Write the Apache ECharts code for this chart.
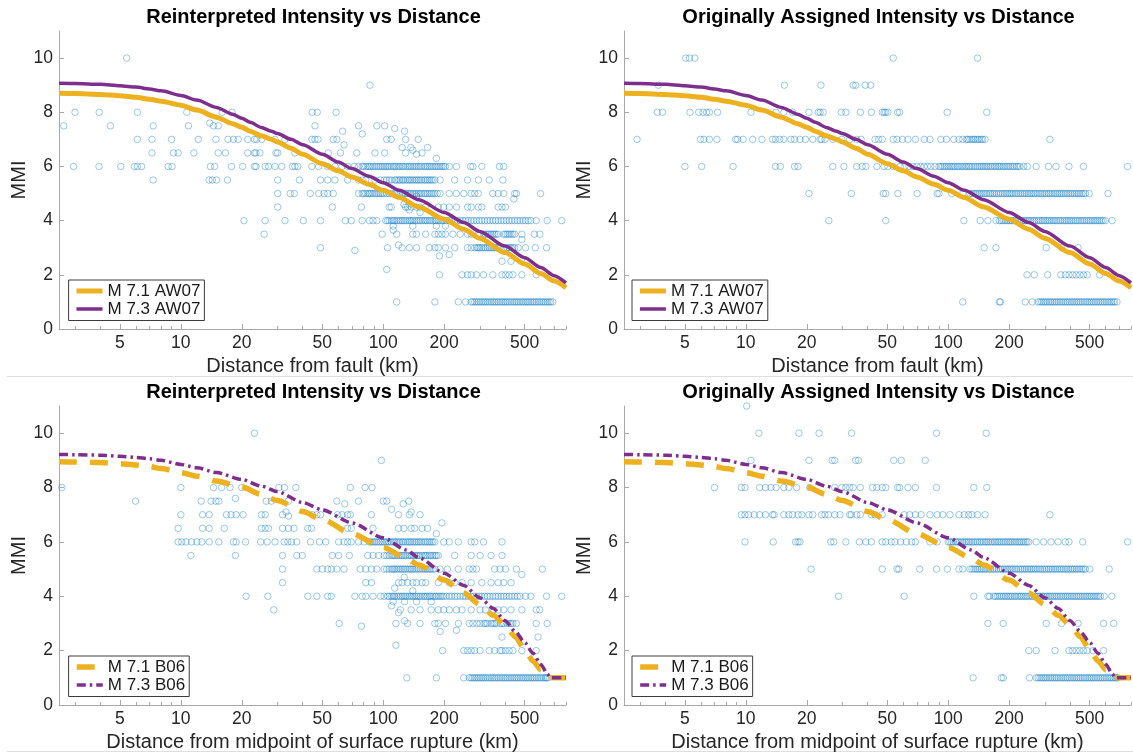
<!DOCTYPE html>
<html><head><meta charset="utf-8">
<script src="https://cdn.jsdelivr.net/npm/echarts@6/dist/echarts.min.js"></script>
<style>html,body{margin:0;padding:0;background:#fff}#c{width:1133px;height:756px}</style>
</head><body><div id="c"></div>
<script>
// ---------- tick labels / categories ----------
const xMajorTicks = [5, 10, 20, 50, 100, 200, 500];
const xMinorTicks = [3, 4, 6, 7, 8, 9, 30, 40, 60, 70, 80, 90, 300, 400, 600, 700, 800];
const yTicks = [0, 2, 4, 6, 8, 10];
const panelTitles = ['Reinterpreted Intensity vs Distance', 'Originally Assigned Intensity vs Distance',
                     'Reinterpreted Intensity vs Distance', 'Originally Assigned Intensity vs Distance'];
const xAxisNames = ['Distance from fault (km)', 'Distance from fault (km)',
                    'Distance from midpoint of surface rupture (km)', 'Distance from midpoint of surface rupture (km)'];
const aw07Names = ['M 7.1 AW07', 'M 7.3 AW07'];
const b06Names = ['M 7.1 B06', 'M 7.3 B06'];

// ---------- observed intensities: [MMI, [distances km]] ----------
const reintFaultRows = [
  [10, [5.4]],
  [9, [86]],
  [8, [3.0, 3.95, 6.1, 10.7, 16, 17.9, 44.6, 47.2, 58.5]],
  [7.6, [13.9]],
  [7.5, [2.64, 4.49, 7.3, 10.9, 14.5, 15.3, 46, 75.5, 93, 101.6]],
  [7.4, [114]],
  [7.3, [63, 127.5]],
  [7.2, [78.7]],
  [7, [6.1, 7.2, 9.0, 12.2, 14.9, 17.1, 18.2, 19.2, 21.4, 23.1, 23.7, 25.1, 29.2, 32.7, 44.4, 46, 47.6, 56.6, 59, 104, 109.5, 129, 149]],
  [6.8, [64]],
  [6.7, [124, 137, 165.6]],
  [6.6, [140]],
  [6.5, [7.2, 9.2, 9.7, 11.6, 15.3, 16.6, 21.4, 23.1, 23.5, 24.6, 29.5, 30.1, 36.6, 53.5, 61.5, 74, 91, 101.6, 129, 155.5]],
  [6.45, [146]],
  [6.3, [183]],
  [6, [2.95, 3.94, 5.05, 5.9, 6.1, 6.4, 8.65, 9.05, 14.0, 14.7, 17.8, 20.2, 23.1, 23.5, 26.1, 27.1, 29.2, 31.5, 35.6, 36.6, 37.8, 44.4, 48, 53.2, 57.7, 62.6, 66.7, 72, 75.5, 78.7, 82, 85.5, 89, 93, 97, 101, 105, 109.5, 114, 119, 124, 129, 134.6, 140, 146, 152, 159, 165.6, 172.6, 180, 187, 195, 203, 212, 230, 270, 277.5, 307, 375, 394]],
  [6, [80, 84, 87, 91, 95, 99, 103, 107, 112, 116, 121, 126, 132, 137, 143, 149, 155, 162, 169, 176, 183, 191, 199]],
  [5.5, [7.3, 13.8, 14.3, 15.0, 17.0, 30.1, 38.5, 49, 53.2, 57.7, 66.7, 75.5, 78.7, 82, 91, 97, 101, 107, 114, 119, 124, 129, 134.6, 140, 146, 152, 159, 165.6, 172.6, 180, 191, 225.5, 261, 295, 334, 390]],
  [5.5, [104, 110, 116, 121, 126, 132, 137, 143, 149, 155, 162, 169, 176]],
  [5, [30.1, 34.7, 36.4, 43.6, 48, 51, 53.2, 56.6, 75.5, 78.7, 82, 85.5, 89, 93, 97, 101, 107, 114, 119, 124, 129, 134.6, 140, 146, 152, 159, 165.6, 172.6, 180, 191, 212, 230, 250, 272, 283, 295, 348, 370, 394, 446, 455, 599]],
  [5, [80, 84, 87, 91, 95, 99, 104, 110, 116, 121, 126, 132, 137, 143, 149, 155, 162, 169, 176, 185]],
  [4.9, [146]],
  [4.8, [442]],
  [4.6, [126.5]],
  [4.5, [30.1, 56, 78, 107, 109.5, 129, 132, 137.4, 146, 152, 162, 187, 199, 212, 230, 261, 272, 295, 307, 370, 386, 402]],
  [4.4, [134.6]],
  [4.3, [152]],
  [4, [20.5, 26.1, 32.7, 40.3, 49, 65, 69.5, 78.7, 85.5, 89, 93, 103, 107, 112, 116.5, 121.5, 126.5, 132, 137.4, 143, 149, 155.5, 162, 169, 176, 183, 191, 199, 212, 225.5, 240, 255, 272, 289, 307, 327, 348, 370, 394, 419, 446, 474, 505, 536, 570, 646, 762]],
  [4, [105, 110, 114, 119, 124, 129, 135, 140, 146, 152, 159, 165, 172, 180, 187, 195, 205, 218, 232, 248, 263, 280, 298, 317, 337, 359, 382, 406, 432, 460, 490, 520]],
  [3.8, [112, 140, 183, 203]],
  [3.65, [112]],
  [3.5, [25.8, 98.8, 116.5, 140, 146, 162, 180, 187, 195, 203, 221, 240, 261, 272, 295, 320, 334, 348, 370, 394, 410, 428, 446, 484, 558, 594]],
  [3.5, [300, 314, 327, 341, 355, 362, 402, 419, 437]],
  [3.3, [484]],
  [3.1, [119]],
  [3, [49, 105, 124, 134.6, 146, 169, 180, 187, 203, 225.5, 261, 272, 283, 295, 307, 320, 334, 348, 362, 378, 410, 428, 446, 464, 505, 564, 641]],
  [3, [290, 300, 314, 327, 341, 355, 370, 394, 419, 437]],
  [2.9, [72.4]],
  [2.75, [212]],
  [2.7, [189.5]],
  [2.5, [386, 428, 515]],
  [2.2, [104]],
  [2, [189.5, 245, 261, 272, 289, 313, 348, 386, 402, 419, 437, 484, 570]],
  [1, [116.5, 180, 235, 255, 272, 283, 295, 307, 320, 334, 348, 362, 378, 394, 410, 428, 446, 464, 484, 505, 525, 547, 570, 594, 620, 646, 673, 688]],
  [1, [277, 289, 301, 314, 327, 341, 355, 370, 386, 402, 419, 437, 455, 474, 494, 515, 536, 558, 582, 607, 633, 660]]
];

const origFaultRows = [
  [10, [5.05, 5.27, 5.6, 53.5, 139.5]],
  [9, [3.7, 15.5, 23.5, 33.9, 34.9, 38.9, 41.4]],
  [8, [3.65, 3.87, 5.3, 5.85, 6.14, 6.4, 6.6, 7.25, 10.6, 14.1, 15.4, 17.0, 20.5, 22.8, 23.3, 24.1, 29.6, 31.2, 36.8, 41.7, 47.2, 48.2, 49.1, 50.3, 56.2, 57.5, 98.8, 155]],
  [7, [2.9, 5.97, 6.2, 6.6, 7.2, 8.9, 9.1, 9.7, 10.8, 12.0, 13.55, 14.0, 14.7, 15.4, 16.7, 17.4, 18.5, 19.7, 21.4, 23.3, 23.7, 24.6, 26.9, 29.8, 32.6, 35.3, 37.1, 43.5, 45.3, 47.2, 53.5, 55.8, 59.4, 63.2, 68.8, 76.2, 81.2, 92, 98, 106.5, 113, 123, 128, 133.8, 139.5, 145.5, 152, 318]],
  [7, [118, 125, 131, 136, 142, 148]],
  [6, [5.0, 6.05, 8.65, 14.0, 14.8, 17.4, 18.1, 26.9, 30.5, 35.3, 37.6, 39.2, 44.4, 48.2, 50.3, 53.5, 58, 61, 64, 67, 70, 73, 76, 79, 82, 86, 90, 94, 98, 102, 106, 111, 116, 121, 126, 131, 137, 143, 149, 155, 162, 169, 176, 183, 191, 199, 208, 217, 226, 236, 246, 272, 313, 341, 395, 466, 769]],
  [6, [92, 96, 100, 104, 108, 113, 118, 123, 128, 134, 140, 146, 152, 158, 165, 172, 179, 187, 195, 203, 212, 221]],
  [5, [20.5, 33.2, 47.8, 49.1, 56.4, 70.2, 88.2, 90, 104, 118, 128, 134, 140, 146, 152, 159, 166, 173, 181, 189, 197, 205, 214, 223, 233, 243, 253, 264, 275, 287, 300, 313, 326, 340, 355, 370, 386, 403, 420, 438, 457, 477, 497, 616]],
  [5, [131, 137, 143, 149, 155, 162, 169, 177, 185, 193, 201, 209, 218, 228, 238, 248, 258, 269, 281, 293, 306, 319, 333, 347, 362, 378, 394, 411, 429, 447, 467]],
  [4, [25.7, 49.1, 119.5, 144, 157, 172, 179, 187, 195, 203, 212, 221, 231, 241, 251, 262, 273, 285, 297, 310, 323, 337, 352, 367, 383, 399, 416, 434, 453, 472, 493, 514, 536, 559, 583, 598, 645]],
  [4, [183, 191, 199, 207, 216, 226, 236, 246, 256, 267, 279, 291, 303, 316, 330, 344, 359, 375, 391, 407, 425, 443, 462, 482, 503, 525, 547, 571]],
  [3, [150.5, 172, 305, 363, 438]],
  [2, [245, 266, 310, 360, 379, 395, 412, 429, 447, 466, 486, 560]],
  [1, [118, 179, 181, 240, 260, 278, 290, 302, 315, 328, 342, 357, 372, 388, 405, 422, 440, 459, 479, 500, 521, 543, 566, 590, 615, 641, 665, 682]],
  [1, [284, 296, 308, 321, 335, 349, 364, 380, 396, 413, 431, 449, 469, 489, 510, 532, 554, 578, 602, 628, 654]]
];

const reintMidRows = [
  [10, [23.1]],
  [9, [98]],
  [8, [2.58, 10, 14.5, 15.9, 17.5, 20, 30.5, 32.5, 37, 68.8, 81.3, 88]],
  [7.6, [18.6]],
  [7.5, [5.97, 12.6, 14.1, 14.9, 15.4, 26.4, 28, 34, 59, 75.5, 100, 104, 133.7]],
  [7.4, [64.5, 125.5]],
  [7.2, [110]],
  [7.1, [33.1, 137.4]],
  [7, [10, 12.8, 13.8, 16.8, 17.7, 18.75, 20.3, 25, 26.1, 31.8, 44.6, 47, 49, 59.4, 62.6, 66.7, 68.8, 87.4, 119, 134.6, 152]],
  [6.95, [34]],
  [6.7, [195]],
  [6.5, [9.7, 12.8, 13.8, 16.4, 25, 26.1, 27.1, 31.8, 34, 36.2, 42.4, 44.2, 66.7, 69.5, 89, 119, 126.5, 137.4, 143, 155.5, 165.6]],
  [6.3, [183]],
  [6, [9.7, 10.1, 10.6, 11.3, 12.0, 12.7, 13.8, 15.4, 18.2, 18.75, 20.9, 24.8, 26.7, 29.2, 32.4, 33.8, 35.2, 37.4, 43.7, 48.4, 52, 60.2, 64, 66.7, 69.5, 75.5, 80.3, 85.5, 89, 93, 97, 101, 105, 109.5, 114, 119, 124, 129, 134.6, 140, 146, 152, 159, 165.6, 172.6, 180, 199, 212, 235, 272, 283, 313, 386]],
  [6, [87, 91, 95, 99, 103, 107, 112, 116, 121, 126, 132, 137, 143, 149, 155, 162, 169, 176]],
  [5.5, [11.2, 18.6, 31.8, 37.4, 39.8, 56, 60.2, 68, 83.8, 89, 95, 101, 107, 112, 116.5, 121.5, 126.5, 132, 137.4, 143, 149, 155.5, 162, 169, 176, 183, 187, 225.5, 272, 301, 341, 386]],
  [5.5, [104, 110, 114, 119, 124, 129, 135, 140, 146, 152, 159, 165, 172, 180]],
  [5, [31.8, 47, 50, 53.2, 55.4, 59, 64, 77, 82, 87.4, 93, 101, 107, 112, 116.5, 121.5, 126.5, 132, 137.4, 143, 149, 155.5, 162, 169, 176, 180, 191, 207.5, 235, 266, 277.5, 289, 355, 378, 402, 455, 611]],
  [5, [104, 110, 114, 119, 124, 129, 135, 140, 146, 152, 159, 165, 172]],
  [4.8, [484]],
  [4.7, [127]],
  [4.5, [31.8, 82, 87.4, 119, 124, 132, 140, 146, 155.5, 162, 187, 212, 225.5, 245, 272, 307, 341, 370, 394, 428]],
  [4.3, [114]],
  [4.2, [140]],
  [4, [21.0, 26.9, 42.4, 47, 53.2, 55.4, 72.4, 78.7, 82, 89, 97, 101, 107, 112, 116.5, 121.5, 126.5, 132, 137.4, 143, 149, 155.5, 162, 169, 176, 183, 191, 199, 212, 225.5, 240, 255, 272, 289, 307, 327, 348, 370, 394, 419, 446, 474, 505, 536, 641, 762]],
  [4, [105, 110, 114, 119, 124, 129, 135, 140, 146, 152, 159, 165, 172, 180, 187, 195, 205, 218, 232, 248, 263, 280, 298, 317, 337, 359, 382, 406, 432, 460]],
  [3.8, [112, 127.5, 146, 172.6]],
  [3.65, [110]],
  [3.5, [28.8, 121.5, 137.4, 152, 172.6, 187, 199, 212, 230, 245, 272, 301, 320, 348, 370, 394, 428, 484, 570, 594]],
  [3.4, [119]],
  [3.1, [127.5]],
  [3, [60.6, 115.5, 132, 152, 180, 187, 203, 235, 266, 277.5, 301, 320, 341, 355, 386, 410, 428, 455, 570, 646]],
  [3, [290, 314, 327, 348, 362, 378, 394, 419, 437]],
  [2.9, [78]],
  [2.75, [230]],
  [2.7, [191]],
  [2.5, [386, 582]],
  [2.2, [115.5]],
  [2, [196.5, 250, 261, 272, 283, 301, 334, 355, 378, 386, 402, 419, 437, 484, 570]],
  [1, [130.8, 183, 250, 266, 277.5, 289, 301, 313, 327, 341, 355, 370, 386, 402, 419, 437, 455, 474, 494, 515, 536, 558, 582, 606, 633, 650]],
  [1, [272, 283, 295, 307, 320, 334, 348, 362, 378, 394, 410, 428, 446, 464, 484, 505, 525, 547, 570, 594, 620, 640]]
];

const origMidRows = [
  [11, [10.1]],
  [10, [11.6, 18.3, 23, 33.3, 87.5, 154]],
  [9, [10.6, 20.5, 26.7, 27.5, 34.9, 36, 53.8, 58.6, 77]],
  [8, [7.0, 9.5, 9.9, 11.7, 12.5, 13.3, 14.1, 15.4, 16.3, 17.8, 20.7, 27.5, 29.8, 31.2, 32.6, 33.9, 36.8, 42.3, 44.4, 47.2, 49.1, 56.2, 57.5, 63.2, 68.8, 87.5, 133.8, 155]],
  [7, [9.5, 9.9, 10.3, 11.0, 11.7, 12.5, 13.55, 13.8, 15.4, 16.3, 17.0, 18.1, 18.9, 20.5, 21.4, 23.7, 24.6, 25.6, 27.5, 29.2, 32.6, 33.2, 35.3, 36.8, 41.7, 43.5, 47.2, 60.6, 64.5, 68.8, 73.4, 81.2, 88.2, 94, 102, 113, 120, 126, 131, 139.5, 152, 318]],
  [6, [9.9, 13.65, 17.6, 18.1, 18.5, 26.3, 27.2, 31.2, 36.4, 39.2, 41.7, 47.2, 49.1, 52.3, 54.5, 58.2, 62.1, 66, 68.8, 81.2, 88.2, 100, 104, 109, 113, 118, 123, 128, 133.8, 139.5, 145.5, 152, 158, 165, 172, 179, 187, 195, 203, 212, 221, 230, 240, 250, 272, 296, 322, 349, 379, 395, 462, 769]],
  [6, [102, 106, 111, 116, 121, 126, 131, 137, 143, 149, 155, 162, 169, 176, 183, 191, 199, 207, 216, 225, 235, 245]],
  [5, [21.0, 47.2, 55.8, 57, 72.3, 87.5, 99, 113, 118, 128, 134, 140, 146, 152, 159, 166, 173, 181, 189, 197, 205, 214, 223, 233, 243, 253, 264, 275, 287, 300, 313, 326, 340, 355, 370, 386, 403, 420, 438, 457, 477, 501, 624]],
  [5, [131, 137, 143, 149, 155, 162, 169, 177, 185, 193, 201, 209, 218, 228, 238, 248, 258, 269, 281, 293, 306, 319, 333, 347, 362, 378, 394, 411, 429, 447, 467]],
  [4, [28.7, 60.6, 133.8, 157, 160, 168, 175, 183, 191, 199, 207, 216, 226, 235, 245, 256, 267, 278, 290, 302, 315, 328, 342, 357, 372, 388, 405, 422, 440, 459, 479, 500, 521, 543, 566, 590, 643]],
  [4, [171, 179, 187, 195, 203, 212, 221, 230, 240, 250, 261, 272, 284, 296, 308, 321, 335, 349, 364, 380, 396, 413, 431, 449, 469, 489, 510, 532, 554]],
  [3, [157, 187, 305, 363, 438, 586, 657]],
  [2, [250, 272, 337, 395, 412, 429, 447, 466, 486, 518, 586]],
  [1, [132.7, 183, 187, 252, 272, 278, 290, 302, 315, 328, 342, 357, 372, 388, 405, 422, 440, 459, 479, 500, 521, 543, 566, 590, 615, 641, 668, 690]],
  [1, [284, 296, 308, 321, 335, 349, 364, 380, 396, 413, 431, 449, 469, 489, 510, 532, 554, 578, 602, 628, 654, 680]]
];

// ---------- prediction curves: [distance km, MMI] ----------
const aw07M71 = [[2.5,8.7],[3,8.69],[4,8.66],[5,8.61],[6,8.55],[7,8.48],[8,8.41],[10,8.26],[12,8.08],[15,7.82],[18,7.58],[20,7.45],[22,7.3],[25,7.13],[28,7.0],[30,6.9],[35,6.67],[40,6.45],[50,6.1],[60,5.84],[70,5.61],[85,5.34],[100,5.12],[120,4.85],[150,4.5],[200,4.05],[250,3.68],[300,3.35],[400,2.82],[500,2.4],[600,2.05],[700,1.77],[800,1.52]];
const aw07M73 = [[2.5,9.07],[3,9.06],[4,9.03],[5,8.98],[6,8.93],[7,8.86],[8,8.79],[10,8.62],[12,8.45],[15,8.18],[18,7.93],[20,7.78],[22,7.63],[25,7.44],[28,7.3],[30,7.22],[35,7.0],[40,6.8],[50,6.45],[60,6.16],[70,5.92],[85,5.64],[100,5.4],[120,5.12],[150,4.77],[200,4.3],[250,3.93],[300,3.6],[400,3.06],[500,2.63],[600,2.27],[700,1.97],[800,1.7]];
const b06M71 = [[2.5,8.95],[3,8.94],[4,8.92],[5,8.88],[6,8.83],[7,8.77],[8,8.7],[10,8.55],[12,8.42],[15,8.24],[20,8.02],[25,7.75],[30,7.52],[40,7.12],[50,6.82],[70,6.3],[100,5.8],[130,5.4],[150,5.15],[200,4.6],[250,4.12],[300,3.7],[350,3.3],[400,2.95],[450,2.5],[500,2.05],[550,1.62],[600,1.3],[650,1.03],[665,1.0],[800,1.0]];
const b06M73 = [[2.5,9.22],[3,9.21],[4,9.19],[5,9.15],[6,9.11],[7,9.06],[8,9.0],[10,8.85],[12,8.73],[15,8.55],[20,8.3],[25,8.05],[30,7.85],[40,7.45],[50,7.18],[70,6.7],[100,6.15],[130,5.7],[150,5.42],[200,4.85],[250,4.4],[300,3.95],[350,3.55],[400,3.1],[450,2.7],[500,2.3],[550,1.9],[600,1.5],[650,1.12],[670,1.0],[800,1.0]];

// ---------- chart ----------
const FONT = '"Liberation Sans", Arial, Helvetica, sans-serif';
const AXIS_GRAY = '#a9a9a9';
const TEXT = '#262626';
const YELLOW = '#EDB120';
const PURPLE = '#7E2F8E';

const panels = [
  { rows: reintFaultRows, curves: [aw07M71, aw07M73], names: aw07Names, dashed: false, gl: 59,  gt: 31,  gh: 298, ll: 68.6, lt: 280 },
  { rows: origFaultRows,  curves: [aw07M71, aw07M73], names: aw07Names, dashed: false, gl: 624, gt: 31,  gh: 298, ll: 632,  lt: 280 },
  { rows: reintMidRows,   curves: [b06M71, b06M73],   names: b06Names,  dashed: true,  gl: 59,  gt: 406, gh: 299, ll: 68.6, lt: 656 },
  { rows: origMidRows,    curves: [b06M71, b06M73],   names: b06Names,  dashed: true,  gl: 624, gt: 406, gh: 299, ll: 632,  lt: 656 }
];
const GW = 507;

function flatten(rows) {
  const out = [];
  rows.forEach(([m, ds]) => ds.forEach(d => out.push([d, m])));
  return out;
}

const option = {
  animation: false,
  backgroundColor: '#fff',
  textStyle: { fontFamily: FONT },
  grid: [], xAxis: [], yAxis: [], series: [], legend: [], graphic: []
};

panels.forEach((p, i) => {
  option.grid.push({ left: p.gl, top: p.gt, width: GW, height: p.gh });
  option.xAxis.push({
    type: 'log', logBase: 10, gridIndex: i, min: 2.5, max: 800, position: 'bottom',
    name: xAxisNames[i], nameLocation: 'middle', nameGap: 27,
    nameTextStyle: { fontSize: 20, color: TEXT, fontFamily: FONT },
    axisLine: { show: true, onZero: false, lineStyle: { color: AXIS_GRAY, width: 1 } },
    axisTick: { show: true, inside: true, length: 5, customValues: xMajorTicks, lineStyle: { color: AXIS_GRAY } },
    axisLabel: { show: true, customValues: xMajorTicks, margin: 5, fontSize: 17.5, color: TEXT, fontFamily: FONT },
    splitLine: { show: false }, minorTick: { show: false }, minorSplitLine: { show: false }
  });
  option.xAxis.push({
    type: 'log', logBase: 10, gridIndex: i, min: 2.5, max: 800, position: 'bottom',
    axisLine: { show: false, onZero: false },
    axisTick: { show: true, inside: true, length: 3, customValues: xMinorTicks, lineStyle: { color: AXIS_GRAY } },
    axisLabel: { show: false }, splitLine: { show: false }
  });
  option.yAxis.push({
    type: 'value', gridIndex: i, min: 0, max: 11, position: 'left',
    name: 'MMI', nameLocation: 'middle', nameGap: 29, nameRotate: 90,
    nameTextStyle: { fontSize: 20, color: TEXT, fontFamily: FONT },
    axisLine: { show: true, onZero: false, lineStyle: { color: AXIS_GRAY, width: 1 } },
    axisTick: { show: true, inside: true, length: 5, customValues: yTicks, lineStyle: { color: AXIS_GRAY } },
    axisLabel: { show: true, customValues: yTicks, margin: 6, fontSize: 17.5, color: TEXT, fontFamily: FONT },
    splitLine: { show: false }
  });

  option.series.push({
    type: 'scatter', name: 'observed ' + i, xAxisIndex: 2 * i, yAxisIndex: i,
    data: flatten(p.rows), symbol: 'circle', symbolSize: 6.5, clip: false,
    itemStyle: { color: 'rgba(255,255,255,0)', borderColor: 'rgba(0,114,189,0.55)', borderWidth: 0.9 },
    emphasis: { disabled: true }, silent: true, z: 2
  });
  const styles = p.dashed
    ? [{ color: YELLOW, width: 5.5, type: [18, 13] }, { color: PURPLE, width: 3.5, type: [9, 4, 2.5, 4] }]
    : [{ color: YELLOW, width: 5, type: 'solid' }, { color: PURPLE, width: 3.5, type: 'solid' }];
  p.curves.forEach((c, k) => {
    option.series.push({
      type: 'line', name: p.names[k], xAxisIndex: 2 * i, yAxisIndex: i, data: c,
      symbol: 'none', showSymbol: false, smooth: 0.25, smoothMonotone: 'x',
      lineStyle: Object.assign({ cap: 'butt', join: 'round' }, styles[k]),
      itemStyle: { color: styles[k].color },
      emphasis: { disabled: true }, silent: true, z: 3 + k
    });
  });
  option.legend.push({
    show: true, data: p.names, orient: 'vertical', left: p.ll, top: p.lt,
    itemWidth: 26, itemHeight: 14, itemGap: 1, padding: [2.5, 4, 3, 5.4],
    borderColor: '#3c3c3c', borderWidth: 1, borderRadius: 0, backgroundColor: '#fff',
    textStyle: { fontSize: 17, color: '#1a1a1a', fontFamily: FONT },
    lineStyle: { width: 'inherit' },
    itemStyle: { opacity: 0, borderWidth: 0 },
    selectedMode: false, z: 10
  });
  option.graphic.push({
    type: 'text', x: p.gl + GW / 2 + 1, y: p.gt - 14, silent: true, z: 20,
    style: { text: panelTitles[i], fill: '#000', font: 'bold 20px ' + FONT,
             textAlign: 'center', textVerticalAlign: 'middle', align: 'center', verticalAlign: 'middle' }
  });
});

option.graphic.push(
  { type: 'line', silent: true, shape: { x1: 7, y1: 376.5, x2: 1133, y2: 376.5 }, style: { stroke: '#dedede', lineWidth: 1 } },
  { type: 'line', silent: true, shape: { x1: 7, y1: 751.5, x2: 1133, y2: 751.5 }, style: { stroke: '#dedede', lineWidth: 1 } }
);

const chart = echarts.init(document.getElementById('c'), null, { renderer: 'canvas', width: 1133, height: 756 });
chart.setOption(option);
</script>
</body></html>
